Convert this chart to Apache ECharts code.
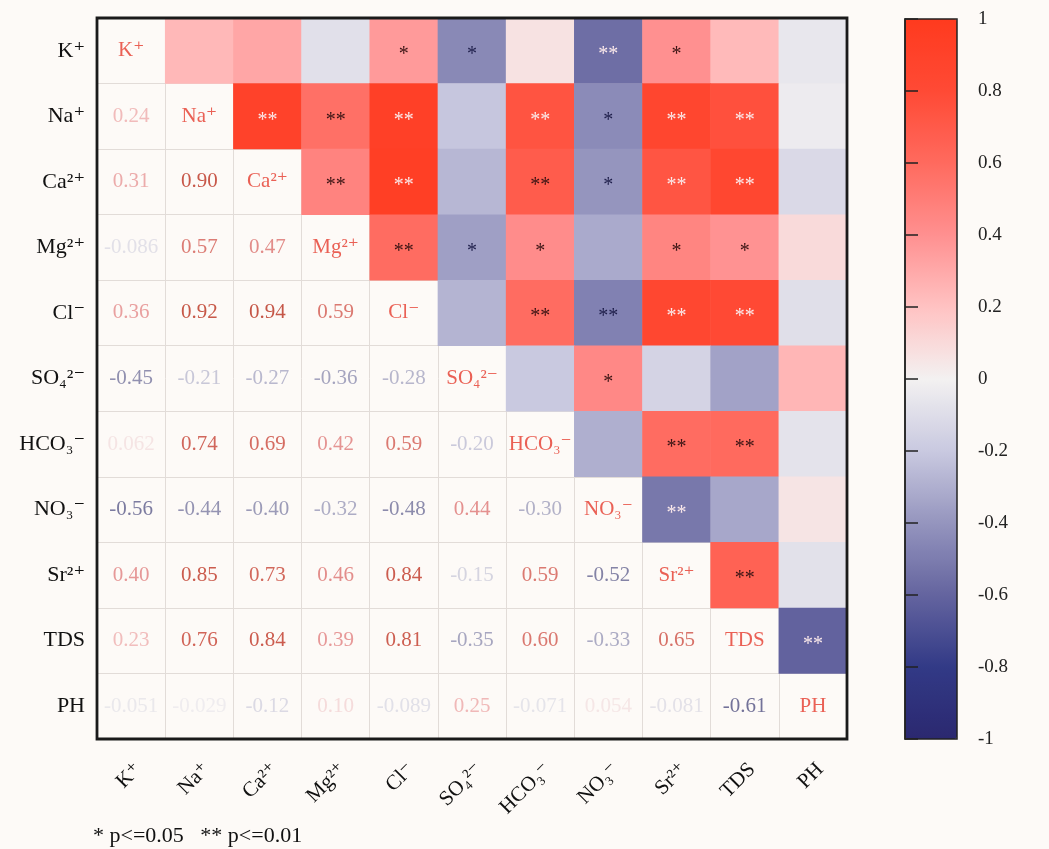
<!DOCTYPE html>
<html>
<head>
<meta charset="utf-8">
<style>
  html, body { margin: 0; padding: 0; background: #fdfaf7; }
  #chart { width: 1049px; height: 849px; }
</style>
<script src="https://cdn.jsdelivr.net/npm/echarts@6/dist/echarts.min.js"></script>
</head>
<body>
<div id="chart"></div>
<script>
// Variable names (rows top to bottom, columns left to right)
const names = ['K⁺', 'Na⁺', 'Ca²⁺', 'Mg²⁺', 'Cl⁻', 'SO₄²⁻', 'HCO₃⁻', 'NO₃⁻', 'Sr²⁺', 'TDS', 'PH'];

// Pearson coefficients, lower triangle (row i, columns 0..i-1)
const corrLower = [
  [],
  [0.24],
  [0.31, 0.90],
  [-0.086, 0.57, 0.47],
  [0.36, 0.92, 0.94, 0.59],
  [-0.45, -0.21, -0.27, -0.36, -0.28],
  [0.062, 0.74, 0.69, 0.42, 0.59, -0.20],
  [-0.56, -0.44, -0.40, -0.32, -0.48, 0.44, -0.30],
  [0.40, 0.85, 0.73, 0.46, 0.84, -0.15, 0.59, -0.52],
  [0.23, 0.76, 0.84, 0.39, 0.81, -0.35, 0.60, -0.33, 0.65],
  [-0.051, -0.029, -0.12, 0.10, -0.089, 0.25, -0.071, 0.054, -0.081, -0.61]
];

// Significance marks, upper triangle (row i, columns i+1..10)
const upperStars = [
  ['', '', '', '*', '*', '', '**', '*', '', ''],
  ['**', '**', '**', '', '**', '*', '**', '**', ''],
  ['**', '**', '', '**', '*', '**', '**', ''],
  ['**', '*', '*', '', '*', '*', ''],
  ['', '**', '**', '**', '**', ''],
  ['', '*', '', '', ''],
  ['', '**', '**', ''],
  ['**', '', ''],
  ['**', ''],
  ['**']
];

// Colour scale stops from -1 to 1
const scaleStops = ['#2b2870', '#323a86', '#64649f', '#9595be', '#c9c9e0', '#f3f1f1',
                    '#ffc2c2', '#ff9090', '#ff6a5e', '#ff4a35', '#ff3a1e'];
const colorbarTicks = [-1, -0.8, -0.6, -0.4, -0.2, 0, 0.2, 0.4, 0.6, 0.8, 1];
const noteText = '* p<=0.05   ** p<=0.01';

const serif = "'Liberation Serif', 'Times New Roman', 'DejaVu Serif', serif";
const bg = '#fdfaf7';

function hexToRgb(h) {
  return [parseInt(h.slice(1, 3), 16), parseInt(h.slice(3, 5), 16), parseInt(h.slice(5, 7), 16)];
}
// Colour of a coefficient on the scale, optionally shaded darker for text
function scaleColor(v, shade) {
  const t = (Math.max(-1, Math.min(1, v)) + 1) / 2 * (scaleStops.length - 1);
  const k = Math.min(Math.floor(t), scaleStops.length - 2);
  const f = t - k;
  const a = hexToRgb(scaleStops[k]), b = hexToRgb(scaleStops[k + 1]);
  const c = a.map((x, idx) => Math.round((x + (b[idx] - x) * f) * shade));
  return 'rgb(' + c.join(',') + ')';
}
function corr(i, j) {
  return i > j ? corrLower[i][j] : corrLower[j][i];
}

const n = names.length;
const cellData = [];
const textData = [];
for (let i = 0; i < n; i++) {
  for (let j = 0; j < n; j++) {
    if (j > i) {
      const v = corr(i, j);
      const light = v >= 0.7 || v <= -0.5;
      cellData.push({
        value: [j, i, v],
        label: {
          formatter: upperStars[i][j - i - 1],
          color: light ? '#fbe9ea' : (v > 0 ? '#3a1414' : '#1e1e4a')
        }
      });
    } else if (j < i) {
      const v = corrLower[i][j];
      const shade = 1 - 0.3 * Math.abs(v);
      textData.push({
        value: [j, i, v],
        label: { formatter: v.toPrecision(2), color: scaleColor(v, shade) }
      });
    } else {
      textData.push({
        value: [j, i, 1],
        label: { formatter: names[i], color: '#e5392c' }
      });
    }
  }
}

const chart = echarts.init(document.getElementById('chart'), null, { renderer: 'canvas' });
chart.setOption({
  backgroundColor: bg,
  animation: false,
  title: {
    text: noteText,
    left: 93,
    top: 825,
    padding: 0,
    textStyle: { fontFamily: serif, fontSize: 22, fontWeight: 'normal', color: '#111' }
  },
  grid: [
    { left: 97, top: 18, width: 750, height: 721, show: true, backgroundColor: 'transparent',
      borderColor: '#1a1a1a', borderWidth: 2.8, z: 20 },
    { left: 905, top: 19, width: 52, height: 720, show: true, backgroundColor: 'transparent',
      borderColor: '#222', borderWidth: 1.5, z: 20 }
  ],
  xAxis: [
    {
      type: 'category', gridIndex: 0, data: names,
      axisLine: { show: false }, axisTick: { show: false },
      splitLine: { show: true, lineStyle: { color: '#e2dcd8', width: 1 } },
      axisLabel: {
        rotate: 45, margin: 20, align: 'right', verticalAlign: 'top',
        fontFamily: serif, fontSize: 21, color: '#111', interval: 0
      }
    },
    { type: 'value', gridIndex: 1, show: false, min: 0, max: 1 }
  ],
  yAxis: [
    {
      type: 'category', gridIndex: 0, data: names, inverse: true,
      axisLine: { show: false }, axisTick: { show: false },
      splitLine: { show: true, lineStyle: { color: '#e2dcd8', width: 1 } },
      axisLabel: { margin: 12, fontFamily: serif, fontSize: 22, color: '#111', interval: 0 }
    },
    {
      type: 'value', gridIndex: 1, position: 'right', min: -1, max: 1, interval: 0.2, z: 20,
      axisLine: { show: true, lineStyle: { color: '#222', width: 1.5 } },
      axisTick: { show: true, length: 13, lineStyle: { color: '#222', width: 1.5 } },
      splitLine: { show: false },
      axisLabel: {
        margin: 21, fontFamily: serif, fontSize: 19, color: '#222',
        formatter: v => {
          const m = colorbarTicks.find(t => Math.abs(t - v) < 1e-6);
          return m === undefined ? '' : String(m);
        }
      }
    }
  ],
  visualMap: {
    type: 'continuous',
    min: -1, max: 1,
    seriesIndex: 0,
    calculable: false,
    hoverLink: false,
    left: 905, top: 19,
    itemWidth: 52, itemHeight: 720,
    padding: 0,
    text: null,
    inRange: { color: scaleStops }
  },
  series: [
    {
      type: 'heatmap',
      xAxisIndex: 0, yAxisIndex: 0,
      data: cellData,
      z: 6,
      label: { show: true, fontFamily: serif, fontSize: 20, offset: [0, 4] },
      emphasis: { disabled: true }
    },
    {
      type: 'scatter',
      xAxisIndex: 0, yAxisIndex: 0,
      data: textData,
      symbolSize: 1,
      itemStyle: { color: 'rgba(0,0,0,0)' },
      z: 6,
      label: { show: true, position: 'inside', fontFamily: serif, fontSize: 21 },
      emphasis: { disabled: true }
    }
  ]
});
</script>
</body>
</html>
